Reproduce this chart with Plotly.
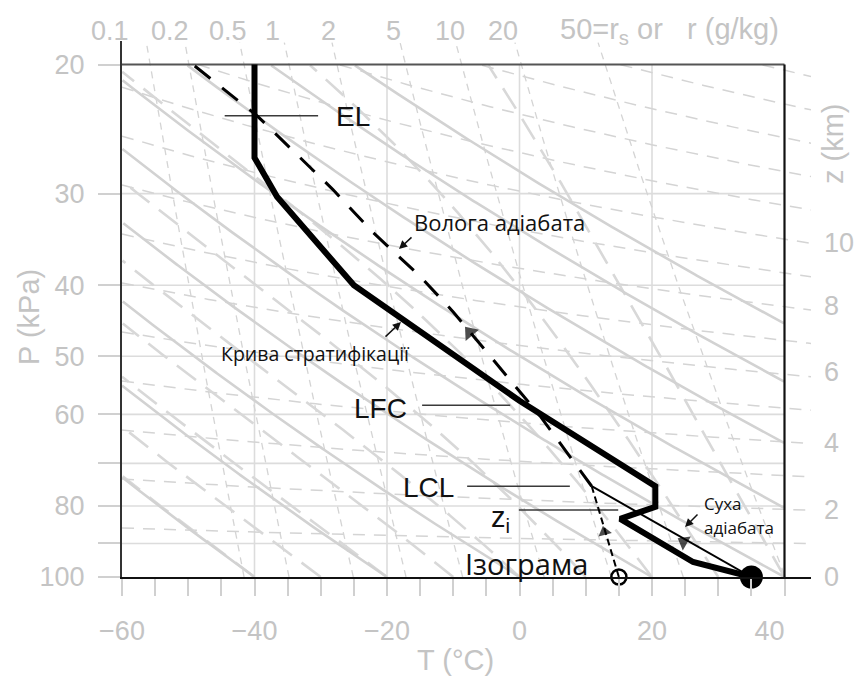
import numpy as np
import plotly.graph_objects as go

# ---------------- data ----------------
# Environmental sounding (curve of stratification)
env_T = [-40, -40, -38.1, -36.6, -25, 0, 20.5, 20.5, 15.2, 26.2, 35]
env_P = [20, 26.8, 28.7, 30.3, 40, 57.5, 75.2, 80.2, 83.3, 95.4, 100]

# Rising parcel: dry adiabat from surface to LCL
dry_parcel_T = [35, 10.9]
dry_parcel_P = [100, 75.2]

# Rising parcel: moist adiabat from LCL upward
moist_parcel_T = [10.9, 5.7, 3.1, -4.9, -10.0, -15.0, -22.1, -28.2, -39.6, -49.3]
moist_parcel_P = [75.2, 64.8, 60.3, 49.4, 43.5, 38.9, 33.9, 29.6, 23.5, 20.0]

# Isohume (mixing-ratio line) from surface dew point to LCL
isohume_T = [15, 10.9]
isohume_P = [100, 75.2]

surface_T = [35]
surface_P = [100]
dewpoint_T = [15]
dewpoint_P = [100]

# Marked levels
level_names = ["EL", "LFC", "LCL", "zi"]
level_P = [23.5, 58.3, 75.2, 81.0]
level_T_from = [-44.5, -14.7, -7.9, -0.1]
level_T_to = [-30.4, -1.4, 7.6, 14.9]

# Flow arrows on the parcel path (pressure where arrow sits)
arrow_moist_P = 46.4
arrow_dry_P = 89.5
arrow_iso_P = 86.8

# Axes / chart background
T_tick_vals = list(range(-60, 41, 5))
T_grid = [-40, -20, 0, 20]
P_tick_vals = [20, 30, 40, 50, 60, 70, 80, 90, 100]
P_tick_text = ["20", "30", "40", "50", "60", "", "80", "", "100"]
P_grid = [30, 40, 50, 60, 70, 80, 90]
z_tick_km = [0, 2, 4, 6, 8, 10]
z_tick_P = [100, 80.9, 65.5, 52.5, 42.7, 35.0]
dry_adiabat_T100 = [-60, -40, -20, 0, 20, 40, 60, 80, 100, 120]
moist_adiabat_T100 = [-40, -30, -20, -10, 0, 10, 20, 30, 40]
mixing_ratios = [0.1, 0.2, 0.5, 1, 2, 5, 10, 20, 50]
mixing_labels = ["0.1", "0.2", "0.5", "1", "2", "5", "10", "20"]
height_lines_km = list(range(1, 16))

# ---------------- layout constants ----------------
W, H = 855, 681
ML, MR, MT, MB = 122, 44, 41, 104
T_MIN, T_FRAME_MAX, T_MAX = -60, 40, 44
P_BOT, P_FRAME_TOP = 100, 20
PLOT_W = W - ML - MR
PLOT_H = H - MT - MB
# choose top of range so that 20 kPa sits at pixel 64.5
frac = (577 - 64.5) / PLOT_H
P_TOP = 100 / np.exp(np.log(5) / frac)

GREY_TXT = "#c4c4c4"
GRID = "#dcdcdc"
BG_LINE = "#d2d2d2"


def px_x(px):
    return (px - ML) / PLOT_W


def px_y(py):
    return (H - MB - py) / PLOT_H


def clip(T, P, tmin=T_MIN, tmax=T_FRAME_MAX, pmin=P_FRAME_TOP, pmax=P_BOT):
    T = np.asarray(T, float)
    P = np.asarray(P, float)
    ok = (T >= tmin) & (T <= tmax) & (P >= pmin) & (P <= pmax)
    Tc = np.where(ok, T, np.nan)
    Pc = np.where(ok, P, np.nan)
    return [None if np.isnan(v) else float(v) for v in Tc], [None if np.isnan(v) else float(v) for v in Pc]


def concat(lines):
    xs, ys = [], []
    for x, y in lines:
        xs += list(x) + [None]
        ys += list(y) + [None]
    return xs, ys


P_grid_fine = np.linspace(100, 18.0, 600)

# dry adiabats
dry_lines = []
for t0 in dry_adiabat_T100:
    th = t0 + 273.15
    T = th * (P_grid_fine / 100.0) ** 0.286 - 273.15
    dry_lines.append(clip(T, P_grid_fine))


# moist (pseudo) adiabats
def moist_adiabat(t0, P_arr):
    Rd, cp, L, eps = 287.04, 1005.7, 2.501e6, 0.622

    def f(T, p):
        es = 0.6112 * np.exp(17.67 * (T - 273.15) / (T - 29.65))
        rs = eps * es / (p - es)
        return (Rd * T + L * rs) / (cp + L * L * rs * eps / (Rd * T * T)) / p

    T = t0 + 273.15
    out = [T]
    for i in range(1, len(P_arr)):
        p = P_arr[i - 1]
        dp = P_arr[i] - p
        k1 = f(T, p)
        k2 = f(T + k1 * dp / 2, p + dp / 2)
        T = T + k2 * dp
        out.append(T)
    return np.array(out) - 273.15


moist_lines = []
for t0 in moist_adiabat_T100:
    T = moist_adiabat(t0, P_grid_fine)
    moist_lines.append(clip(T, P_grid_fine))

# mixing-ratio lines (extend a little above the frame like the original)
mix_lines = []
P_mix = np.linspace(100, P_TOP * 1.005, 300)
for r in mixing_ratios:
    e = r * P_mix / (622.0 + r)
    a = np.log(e / 0.6112)
    Td = 243.5 * a / (17.67 - a)
    mix_lines.append(clip(Td, P_mix, pmin=P_TOP))

# height contours (extend past the right frame as tick dashes)
height_lines = []
T_h = np.linspace(-60, T_MAX, 200)
for z in height_lines_km:
    P = 100 * np.exp(-9.81 * z * 1000 / (287.04 * (T_h + 273.15 + 9)))
    height_lines.append(clip(T_h, P, tmax=T_MAX))

fig = go.Figure()


def add_lines(lines, color, width, dash="solid"):
    xs, ys = concat(lines)
    fig.add_trace(go.Scatter(x=xs, y=ys, mode="lines", hoverinfo="skip",
                             line=dict(color=color, width=width, dash=dash),
                             showlegend=False, connectgaps=False))


# grid
add_lines([([t, t], [P_FRAME_TOP, P_BOT]) for t in T_grid], GRID, 1.6)
add_lines([([T_MIN, T_FRAME_MAX], [p, p]) for p in P_grid], GRID, 1.6)
# background families
add_lines(height_lines, "#d4d4d4", 1.5, "12px,9px")
add_lines(mix_lines, "#d4d4d4", 1.3, "7px,6px")
add_lines(moist_lines, "#d8d8d8", 2.6, "24px,12px")
add_lines(dry_lines, BG_LINE, 2.6)

# frame: top and right
add_lines([([T_MIN, T_FRAME_MAX], [P_FRAME_TOP, P_FRAME_TOP])], "#555555", 2)
add_lines([([T_FRAME_MAX, T_FRAME_MAX], [P_FRAME_TOP, P_BOT])], "#111111", 2.2)

# level leader lines
add_lines([([a, b], [p, p]) for a, b, p in zip(level_T_from, level_T_to, level_P)], "#3a3a3a", 1.5)

# isohume (dashed thin)
fig.add_trace(go.Scatter(x=isohume_T, y=isohume_P, mode="lines", showlegend=False,
                         line=dict(color="black", width=2, dash="7px,4px")))
# dry parcel path
fig.add_trace(go.Scatter(x=dry_parcel_T, y=dry_parcel_P, mode="lines", showlegend=False,
                         line=dict(color="black", width=2)))
# moist parcel path
fig.add_trace(go.Scatter(x=moist_parcel_T, y=moist_parcel_P, mode="lines", showlegend=False,
                         line=dict(color="black", width=3, dash="20px,15px")))
# environmental sounding
fig.add_trace(go.Scatter(x=env_T, y=env_P, mode="lines", showlegend=False,
                         line=dict(color="black", width=6)))


# arrowheads on parcel path
def interp_T(Ps, Ts, p):
    order = np.argsort(Ps)
    return float(np.interp(p, np.array(Ps)[order], np.array(Ts)[order]))


arrow_T = [interp_T(moist_parcel_P, moist_parcel_T, arrow_moist_P),
           interp_T(dry_parcel_P, dry_parcel_T, arrow_dry_P),
           interp_T(isohume_P, isohume_T, arrow_iso_P)]
arrow_P = [arrow_moist_P, arrow_dry_P, arrow_iso_P]
fig.add_trace(go.Scatter(x=arrow_T, y=arrow_P, mode="markers", showlegend=False,
                         marker=dict(symbol="triangle-up", size=[15, 14, 12],
                                     angle=[-40, -60, -15], color="black",
                                     line=dict(width=0))))

# surface points
fig.add_trace(go.Scatter(x=dewpoint_T, y=dewpoint_P, mode="markers", showlegend=False,
                         cliponaxis=False,
                         marker=dict(symbol="circle-open", size=15, color="black",
                                     line=dict(width=2.5, color="black"))))
fig.add_trace(go.Scatter(x=surface_T, y=surface_P, mode="markers", showlegend=False,
                         cliponaxis=False,
                         marker=dict(symbol="circle", size=23, color="black")))

# right axis trace (invisible) to activate y2
fig.add_trace(go.Scatter(x=[None], y=[None], yaxis="y2", showlegend=False))

# ---------------- annotations ----------------
ann = []
SANS = "Liberation Sans, Arial, sans-serif"
UA = "Open Sans, Noto Sans, sans-serif"


def text(px, py, s, size, color="#111111", family=SANS, xanchor="left", angle=0):
    ann.append(dict(x=px_x(px), y=px_y(py), xref="paper", yref="paper", text=s,
                    showarrow=False, xanchor=xanchor, yanchor="middle", textangle=angle,
                    font=dict(family=family, size=size, color=color)))


def pointer(hx, hy, tx, ty):
    ann.append(dict(x=px_x(hx), y=px_y(hy), xref="paper", yref="paper", text="",
                    showarrow=True, ax=tx - hx, ay=ty - hy, arrowhead=2, arrowsize=1.1,
                    arrowwidth=1.5, arrowcolor="#111111"))


text(334, 116, "EL", 28)
text(352, 408, "LFC", 28)
text(401, 488, "LCL", 28)
text(489, 519, "z<sub>i</sub>", 29)
text(463, 563, "Ізограма", 29, family=UA)
text(412, 222, "Волога адіабата", 22, family=UA)
text(219, 354, "Крива стратифікації", 19.5, family=UA)
text(702, 503, "Суха", 17, family=UA)
text(702, 527, "адіабата", 17, family=UA)
pointer(399, 249, 413, 236)
pointer(401, 322, 384, 338)
pointer(685, 527, 699, 513)

# axis titles
text(29, 317, "P (kPa)", 29, color=GREY_TXT, xanchor="center", angle=-90)
text(455, 660, "T (°C)", 29, color=GREY_TXT, xanchor="center")
text(833, 143, "z (km)", 29, color=GREY_TXT, xanchor="center", angle=-90)

# mixing-ratio labels along the top
mix_label_px = [110, 170, 228, 272, 328, 393, 450, 503]
for lab, px in zip(mixing_labels, mix_label_px):
    text(px, 31, lab, 27, color=GREY_TXT, xanchor="center")
NB = "\u00a0"
text(558, 31, "50=r<sub>s</sub>" + NB + "or" + NB * 3 + "r" + NB + "(g/kg)", 29, color=GREY_TXT)

# ---------------- axes ----------------
x_tick_text = []
for v in T_tick_vals:
    if v % 20 == 0:
        s = str(v).replace("-", "\u2212")
        if v == 40:
            s = s + NB * 4
        x_tick_text.append(s)
    else:
        x_tick_text.append("")

yrange = [np.log10(P_BOT), np.log10(P_TOP)]

fig.update_layout(
    width=W, height=H, autosize=False,
    margin=dict(l=ML, r=MR, t=MT, b=MB, pad=0),
    paper_bgcolor="white", plot_bgcolor="white",
    showlegend=False,
    annotations=ann,
    xaxis=dict(range=[T_MIN, T_MAX], tickvals=T_tick_vals, ticktext=x_tick_text,
               tickangle=0,
               ticks="outside", ticklen=17, tickwidth=1.5, tickcolor="#d0d0d0",
               showgrid=False, zeroline=False, showline=True, linecolor="#111111",
               linewidth=2, ticklabelstandoff=12,
               tickfont=dict(family=SANS, size=27, color=GREY_TXT), automargin=False),
    yaxis=dict(type="log", range=yrange, tickvals=P_tick_vals, ticktext=P_tick_text,
               ticks="outside", ticklen=22, tickwidth=1.5, tickcolor="#d0d0d0",
               showgrid=False, zeroline=False, showline=True, linecolor="#333333",
               linewidth=2, ticklabelstandoff=8,
               tickfont=dict(family=SANS, size=27, color=GREY_TXT), automargin=False),
    yaxis2=dict(type="log", range=yrange, overlaying="y", side="right",
                tickvals=z_tick_P, ticktext=[str(z) for z in z_tick_km],
                ticks="", showgrid=False, zeroline=False, showline=False,
                ticklabelstandoff=12,
                tickfont=dict(family=SANS, size=27, color=GREY_TXT), automargin=False),
)

fig.write_html("out.html")
